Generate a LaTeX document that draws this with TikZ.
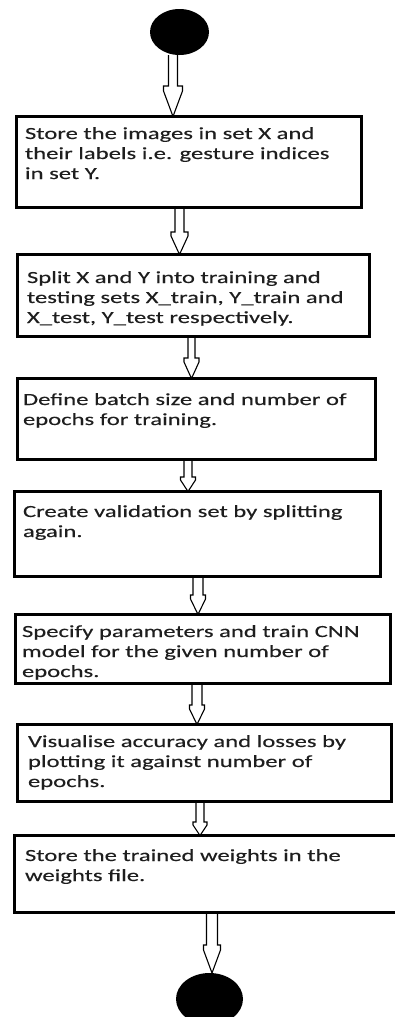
\documentclass[tikz,border=0pt]{standalone}
\usepackage{fontspec}
\setmainfont{Carlito}[FakeStretch=1.45, FakeBold=0.3]
\usetikzlibrary{shapes.geometric,calc}
\definecolor{txt}{RGB}{30,30,30}
\tikzset{
  stepbox/.style={draw=black, line width=3pt, rectangle, inner sep=0pt, outer sep=0pt},
  term/.style={ellipse, fill=black, draw=none, inner sep=0pt, outer sep=0pt},
  blockarr/.style={draw=black, line width=1.1pt, line join=miter},
  label/.style={anchor=base west, inner sep=0pt, outer sep=0pt, text=txt,
    font=\fontsize{17}{20}\selectfont}
}
% #1 from, #2 to, #3 centre x, #4 shaft half width, #5 head start y, #6 head half width, #7 shoulder
\newcommand\hollowarrow[7]{%
  \draw[blockarr] let \p1=(#1), \p2=(#2) in
    ({(#3-#4)*1pt}, \y1) -- ({(#3-#4)*1pt}, {-#5*1pt}) -- ({(#3-#6)*1pt}, {-#5*1pt})
    -- ({(#3-#6)*1pt}, {-(#5+#7)*1pt}) -- ({#3*1pt}, \y2)
    -- ({(#3+#6)*1pt}, {-(#5+#7)*1pt}) -- ({(#3+#6)*1pt}, {-#5*1pt})
    -- ({(#3+#4)*1pt}, {-#5*1pt}) -- ({(#3+#4)*1pt}, \y1);}
\newcommand\boxtext[1]{\parbox[t]{380pt}{\raggedright #1}}
\begin{document}
\begin{tikzpicture}[x=1pt, y=-1pt]
\useasboundingbox (0,0) rectangle (395,1017);
% terminals
\node[term, minimum width=59pt, minimum height=46pt] (e1) at (179.5,32) {};
\node[term, minimum width=67pt, minimum height=52pt] (e2) at (209.5,999) {};
% boxes
\node[stepbox, minimum width=345pt, minimum height=91pt] (b1) at (189,162) {};
\node[stepbox, minimum width=352pt, minimum height=82pt] (b2) at (193.5,295.5) {};
\node[stepbox, minimum width=358pt, minimum height=81pt] (b3) at (196.5,419) {};
\node[stepbox, minimum width=366pt, minimum height=85pt] (b4) at (197.5,534) {};
\node[stepbox, minimum width=375pt, minimum height=69pt] (b5) at (203,649) {};
\node[stepbox, minimum width=374pt, minimum height=77pt] (b6) at (204.5,763) {};
\node[stepbox, minimum width=384pt, minimum height=77pt] (b7) at (206.5,874) {};
% texts
\node[label] (t1) at (25,139) {\boxtext{Store the images in set X and\\their labels i.e. gesture indices\\in set Y.}};
\node[label] (t2) at (27,283) {\boxtext{Split X and Y into training and\\testing sets X\_train, Y\_train and\\X\_test, Y\_test respectively.}};
\node[label] (t3) at (23,405) {\boxtext{Define batch size and number of\\epochs for training.}};
\node[label] (t4) at (23,517) {\boxtext{Create validation set by splitting\\again.}};
\node[label] (t5) at (22,637) {\boxtext{Specify parameters and train CNN\\model for the given number of\\epochs.}};
\node[label] (t6) at (28,747) {\boxtext{Visualise accuracy and losses by\\plotting it against number of\\epochs.}};
\node[label] (t7) at (25,861) {\boxtext{Store the trained weights in the\\weights file.}};
% arrows
\hollowarrow{e1.south}{b1.north}{173}{4.5}{86}{9.5}{5}
\hollowarrow{b1.south}{b2.north}{179.5}{4.5}{232}{8.5}{4}
\hollowarrow{b2.south}{b3.north}{191.5}{3.5}{358}{7.5}{4}
\hollowarrow{b3.south}{b4.north}{188}{4}{477}{7.5}{3}
\hollowarrow{b4.south}{b5.north}{198}{5}{595}{7.5}{4}
\hollowarrow{b5.south}{b6.north}{197}{5}{705}{7.5}{4}
\hollowarrow{b6.south}{b7.north}{200}{4}{822}{7}{3}
\hollowarrow{b7.south}{e2.north}{212}{5.5}{945}{8.5}{5}
\end{tikzpicture}
\end{document}
